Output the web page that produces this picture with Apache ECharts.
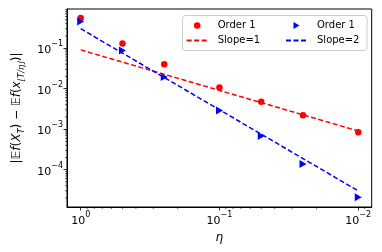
<!DOCTYPE html>
<html><head><meta charset="utf-8">
<script src="https://cdn.jsdelivr.net/npm/echarts@6/dist/echarts.min.js"></script>
<style>html,body{margin:0;padding:0;background:#fff}#c{width:382px;height:252px}</style>
</head><body><div id="c"></div>
<script>
var eta = [1, 0.5, 0.25, 0.1, 0.05, 0.025, 0.01];
var order1Red = [0.55, 0.13, 0.040, 0.0106, 0.0047, 0.0022, 0.00084];
var order1Blue = [0.45, 0.087, 0.0192, 0.0029, 0.00068, 0.000138, 0.000021];
var slope1 = [0.09, 0.045, 0.0225, 0.009, 0.0045, 0.00225, 0.0009];
var slope2 = [0.3, 0.075, 0.01875, 0.003, 0.00075, 0.0001875, 0.00003];
var xTickLabels = ['10^0', '10^-1', '10^-2'];
var yTickLabels = ['10^-4', '10^-3', '10^-2', '10^-1'];
var xMinorTicks = [0.009, 0.02, 0.03, 0.04, 0.05, 0.06, 0.07, 0.08, 0.09, 0.2, 0.3, 0.4, 0.5, 0.6, 0.7, 0.8, 0.9];
var yMinorTicks = [2e-5,3e-5,4e-5,5e-5,6e-5,7e-5,8e-5,9e-5,2e-4,3e-4,4e-4,5e-4,6e-4,7e-4,8e-4,9e-4,2e-3,3e-3,4e-3,5e-3,6e-3,7e-3,8e-3,9e-3,0.02,0.03,0.04,0.05,0.06,0.07,0.08,0.09,0.2,0.3,0.4,0.5,0.6,0.7,0.8,0.9];
var xMin = 0.008, xMax = 1.255, yMin = 1.2e-5, yMax = 0.918;

function pair(xs, ys){ return xs.map(function(x,i){ return [x, ys[i]]; }); }
function fmtPow(v){
  var e = Math.round(Math.log10(v));
  var s = '10^' + e;
  var parts = s.split('^');
  return '{b|' + parts[0] + '}{s|' + parts[1].replace('-', '\u2212') + '}';
}
var FONT = 'DejaVu Sans';
var labelRich = {
  b: {fontSize: 11, fontFamily: FONT, color: '#000', lineHeight: 16, verticalAlign: 'bottom'},
  s: {fontSize: 8, fontFamily: FONT, color: '#000', lineHeight: 16, verticalAlign: 'top'}
};
var names = {o1a: 'Order 1', o1b: 'Order 1', s1: 'Slope=1', s2: 'Slope=2'};
var legendText = {fontFamily: FONT, fontSize: 10, color: '#000', lineHeight: 12, padding: [0,0,0,5]};

var chart = echarts.init(document.getElementById('c'), null, {renderer: 'canvas'});
chart.setOption({
  animation: false,
  backgroundColor: '#fff',
  grid: {left: 67, top: 9, right: 10.3, bottom: 45, show: true, borderColor: '#000', borderWidth: 1, backgroundColor: 'transparent'},
  graphic: [{type: 'rect', left: 182, top: 15, z: 50, shape: {width: 184.5, height: 35, r: 3},
    style: {fill: 'rgba(255,255,255,0.8)', stroke: '#cccccc', lineWidth: 1}}],
  legend: [
    {data: [{name: 'o1a', icon: 'circle'}, {name: 's1', itemStyle: {opacity: 0}}],
     orient: 'vertical', left: 185.7, top: 19.5, padding: 0, itemWidth: 21, itemHeight: 6.5, itemGap: 3, z: 60,
     formatter: function(n){ return names[n]; }, textStyle: legendText},
    {data: [{name: 'o1b', icon: 'path://M0,0L12,7L0,14Z'}, {name: 's2', itemStyle: {opacity: 0}}],
     orient: 'vertical', left: 285, top: 19.5, padding: 0, itemWidth: 21, itemHeight: 7, itemGap: 3, z: 60,
     formatter: function(n){ return names[n]; }, textStyle: legendText}
  ],
  xAxis: {
    type: 'log', logBase: 10, inverse: true, min: xMin, max: xMax,
    axisLine: {show: true, lineStyle: {color: '#000', width: 1}},
    axisTick: {show: true, length: 3.5, lineStyle: {color: '#000', width: 0.8}},
    axisLabel: {show: true, margin: 4, showMinLabel: false, showMaxLabel: false,
      formatter: fmtPow, rich: labelRich},
    splitLine: {show: false},
    name: '\u03b7', nameLocation: 'middle', nameGap: 23,
    nameTextStyle: {fontFamily: FONT, fontSize: 12, fontStyle: 'italic', color: '#000'}
  },
  yAxis: {
    type: 'log', logBase: 10, min: yMin, max: yMax,
    axisLine: {show: true, lineStyle: {color: '#000', width: 1}},
    axisTick: {show: true, length: 3.5, lineStyle: {color: '#000', width: 0.8}},
    axisLabel: {show: true, margin: 4, showMinLabel: false, showMaxLabel: false,
      formatter: fmtPow, rich: labelRich},
    splitLine: {show: false},
    name: '{t|\u007c\ud835\udd3c}{i|f}{t|(}{i|X}{sub|T}{t|) \u2212 \ud835\udd3c}{i|f}{t|(}{i|x}{sub|\u230aT/\u03b7\u230b}{t|)\u007c}',
    nameLocation: 'middle', nameGap: 41, nameRotate: 90,
    nameTextStyle: {
      rich: {
        t: {fontFamily: FONT, fontSize: 12, color: '#000', lineHeight: 16, verticalAlign: 'bottom'},
        i: {fontFamily: FONT, fontSize: 12, fontStyle: 'italic', color: '#000', lineHeight: 16, verticalAlign: 'bottom'},
        sub: {fontFamily: FONT, fontSize: 8.5, fontStyle: 'italic', color: '#000', lineHeight: 16, verticalAlign: 'bottom', padding: [0,0,-3,0]}
      }
    }
  },
  series: [
    {name: 's1', type: 'line', data: pair(eta, slope1), showSymbol: false, symbol: 'none', z: 3,
     lineStyle: {color: '#ff0000', width: 1.5, type: [5, 2.5]}, itemStyle: {color: '#ff0000'}},
    {name: 's2', type: 'line', data: pair(eta, slope2), showSymbol: false, symbol: 'none', z: 3,
     lineStyle: {color: '#0000ff', width: 1.5, type: [5, 2.5]}, itemStyle: {color: '#0000ff'}},
    {name: 'o1a', type: 'scatter', data: pair(eta, order1Red), symbol: 'circle', symbolSize: 6.5, z: 2,
     itemStyle: {color: '#ff0000', opacity: 1}},
    {name: 'o1b', type: 'scatter', data: pair(eta, order1Blue), symbol: 'path://M0,0L12,7L0,14Z', symbolSize: [7, 8], z: 2,
     itemStyle: {color: '#0000ff', opacity: 1}},
    {type: 'custom', silent: true, clip: false, z: 5, data: xMinorTicks.map(function(v){ return [v, yMin]; }),
     encode: {x: 0, y: 1},
     renderItem: function(params, api){
       var cs = params.coordSys; var p = api.coord([api.value(0), api.value(1)]);
       var yb = cs.y + cs.height;
       return {type: 'line', shape: {x1: p[0], y1: yb, x2: p[0], y2: yb + 2}, style: {stroke: '#000', lineWidth: 0.6}};
     }},
    {type: 'custom', silent: true, clip: false, z: 5, data: yMinorTicks.map(function(v){ return [xMax, v]; }),
     encode: {x: 0, y: 1},
     renderItem: function(params, api){
       var cs = params.coordSys; var p = api.coord([api.value(0), api.value(1)]);
       return {type: 'line', shape: {x1: cs.x - 2, y1: p[1], x2: cs.x, y2: p[1]}, style: {stroke: '#000', lineWidth: 0.6}};
     }}
  ]
});
</script></body></html>
